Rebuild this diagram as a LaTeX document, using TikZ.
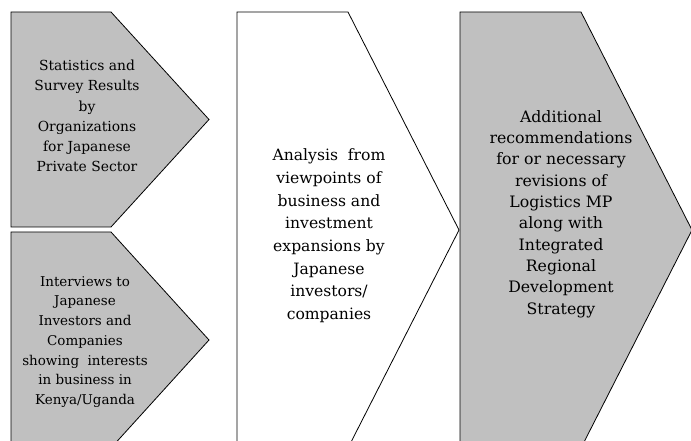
\documentclass[tikz,border=0pt]{standalone}
\usepackage{fontspec}
\setmainfont{DejaVu Serif}
\definecolor{boxgray}{HTML}{C0C0C0}
\tikzset{
  chev/.style={draw=black, line width=0.6pt, line join=miter},
  txt/.style={align=center, inner sep=0pt},
}

\begin{document}
\begin{tikzpicture}[x=0.75pt, y=-0.75pt]
    \clip (0,0) rectangle (691,441);

    % 矢印を描く
    \draw[chev, fill=boxgray] (11,12) -- (111,12) -- (209,119.5) -- (111,227) -- (11,227) -- cycle;
    \draw[chev, fill=boxgray] (11,232) -- (111,232) -- (209,340) -- (111,448) -- (11,448) -- cycle;
    \draw[chev, fill=white] (237,12) -- (348,12) -- (459,230) -- (348,448) -- (237,448) -- cycle;
    \draw[chev, fill=boxgray] (460,12) -- (581,12) -- (692,230) -- (581,448) -- (460,448) -- cycle;

    % 文字を入れる
    \node[txt, font=\fontsize{10.4}{15.2}\selectfont] (stat) at (87,116)
      {Statistics and\\Survey Results\\by\\Organizations\\for Japanese\\Private Sector};
    \node[txt, font=\fontsize{10.1}{14.8}\selectfont] (interv) at (85,342)
      {Interviews to\\Japanese\\Investors and\\Companies\\showing~ interests\\in business in\\Kenya/Uganda};
    \node[txt, font=\fontsize{11.7}{17}\selectfont] (anal) at (329,236)
      {Analysis~ from\\viewpoints of\\business and\\investment\\expansions by\\Japanese\\investors/\\companies};
    \node[txt, font=\fontsize{11.8}{16}\selectfont] (recom) at (561,214)
      {Additional\\recommendations\\for or necessary\\revisions of\\Logistics MP\\along with\\Integrated\\Regional\\Development\\Strategy};
\end{tikzpicture}
\end{document}
